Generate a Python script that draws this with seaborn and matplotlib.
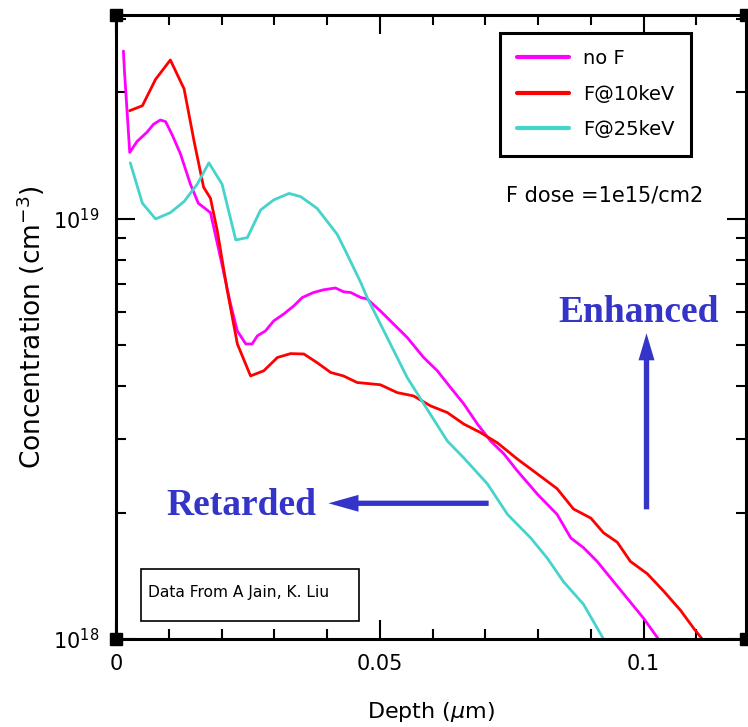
import numpy as np
import pandas as pd
import matplotlib
matplotlib.use("Agg")
import matplotlib.pyplot as plt
import seaborn as sns
from matplotlib.ticker import MultipleLocator, LogLocator, NullFormatter, FixedLocator, FixedFormatter
from matplotlib.patches import Rectangle, FancyArrow

# ---------------- data (depth in um, concentration in cm^-3) ----------------
series_names = ["no F", "F@10keV", "F@25keV"]
series_colors = ["#FF00FF", "#FF0000", "#45D3CB"]

noF_depth = [0.0014, 0.0016, 0.0026, 0.0040, 0.0059, 0.0071, 0.0084, 0.0094, 0.0107, 0.0122,
             0.0141, 0.0156, 0.0179, 0.0198, 0.0217, 0.0230, 0.0246, 0.0258, 0.0268, 0.0283,
             0.0299, 0.0318, 0.0337, 0.0353, 0.0374, 0.0393, 0.0416, 0.0431, 0.0445, 0.0464,
             0.0476, 0.0501, 0.0520, 0.0552, 0.0583, 0.0609, 0.0634, 0.0659, 0.0685, 0.0710,
             0.0735, 0.0761, 0.0799, 0.0836, 0.0862, 0.0886, 0.0912, 0.0943, 0.0969, 0.1000,
             0.1028]
noF_conc = [25.1, 22.5, 14.4, 15.3, 16.1, 16.8, 17.2, 17.05, 15.8, 14.3,
            12.1, 10.9, 10.35, 8.09, 6.28, 5.41, 5.04, 5.04, 5.27, 5.41,
            5.72, 5.94, 6.21, 6.50, 6.68, 6.78, 6.85, 6.71, 6.68, 6.50,
            6.45, 6.04, 5.72, 5.22, 4.68, 4.35, 3.97, 3.63, 3.25, 2.96,
            2.76, 2.51, 2.21, 1.98, 1.74, 1.65, 1.53, 1.37, 1.25, 1.12,
            1.00]

F10_depth = [0.0026, 0.0050, 0.0075, 0.0103, 0.0129, 0.0148, 0.0166, 0.0179, 0.0192, 0.0211,
             0.0230, 0.0255, 0.0280, 0.0306, 0.0331, 0.0356, 0.0381, 0.0407, 0.0431, 0.0457,
             0.0501, 0.0533, 0.0564, 0.0596, 0.0628, 0.0659, 0.0691, 0.0723, 0.0761, 0.0799,
             0.0836, 0.0867, 0.0900, 0.0924, 0.0950, 0.0975, 0.1007, 0.1038, 0.1070, 0.1095,
             0.1111]
F10_conc = [18.1, 18.6, 21.5, 23.9, 20.4, 15.3, 11.9, 11.2, 9.36, 6.74,
            5.04, 4.23, 4.35, 4.68, 4.78, 4.77, 4.55, 4.31, 4.23, 4.08,
            4.03, 3.86, 3.79, 3.59, 3.46, 3.25, 3.10, 2.93, 2.68, 2.47,
            2.28, 2.04, 1.94, 1.79, 1.70, 1.53, 1.43, 1.30, 1.17, 1.06,
            1.00]

F25_depth = [0.0027, 0.0050, 0.0075, 0.0103, 0.0129, 0.0154, 0.0176, 0.0201, 0.0227, 0.0249,
             0.0274, 0.0299, 0.0328, 0.0350, 0.0381, 0.0419, 0.0435, 0.0464, 0.0476, 0.0514,
             0.0552, 0.0590, 0.0628, 0.0659, 0.0704, 0.0742, 0.0786, 0.0817, 0.0848, 0.0886,
             0.0924]
F25_conc = [13.6, 10.9, 10.0, 10.35, 11.0, 12.1, 13.6, 12.1, 8.91, 9.03,
            10.5, 11.1, 11.5, 11.3, 10.6, 9.2, 8.39, 7.05, 6.50, 5.22,
            4.19, 3.52, 2.96, 2.70, 2.34, 1.98, 1.74, 1.56, 1.37, 1.21,
            1.00]

x_ticks = [0, 0.05, 0.1]
x_tick_labels = ["0", "0.05", "0.1"]
y_ticks = [1e18, 1e19]
y_tick_labels = ["$10^{18}$", "$10^{19}$"]

# ---------------- build long-form table ----------------
frames = []
for name, d, c in zip(series_names,
                      [noF_depth, F10_depth, F25_depth],
                      [noF_conc, F10_conc, F25_conc]):
    frames.append(pd.DataFrame({"depth": d,
                                "conc": np.array(c) * 1e18,
                                "series": name}))
df = pd.concat(frames, ignore_index=True)

# ---------------- plot ----------------
sns.set_style("ticks")
plt.rcParams["font.family"] = ["DejaVu Sans"]
plt.rcParams["text.color"] = "black"
plt.rcParams["axes.labelcolor"] = "black"
plt.rcParams["xtick.color"] = "black"
plt.rcParams["ytick.color"] = "black"

fig = plt.figure(figsize=(7.48, 7.27), dpi=100)
ax = fig.add_axes([0.1551, 0.121, 0.8422, 0.8577])
ax.set_yscale("log")

sns.lineplot(data=df, x="depth", y="conc", hue="series", hue_order=series_names,
             palette=dict(zip(series_names, series_colors)), estimator=None,
             sort=False, linewidth=2.0, ax=ax, legend=True)

ax.set_xlim(0, 0.1194)
ax.set_ylim(1e18, 3.05e19)

ax.xaxis.set_major_locator(FixedLocator(x_ticks))
ax.xaxis.set_major_formatter(FixedFormatter(x_tick_labels))
ax.xaxis.set_minor_locator(MultipleLocator(0.01))
ax.yaxis.set_major_locator(FixedLocator(y_ticks))
ax.yaxis.set_major_formatter(FixedFormatter(y_tick_labels))
ax.yaxis.set_minor_locator(LogLocator(base=10, subs=np.arange(2, 10)))
ax.yaxis.set_minor_formatter(NullFormatter())

ax.tick_params(which="both", direction="in", top=True, right=True, width=1.5,
               color="black", labelcolor="black", labelsize=15)
ax.tick_params(which="major", length=14)
ax.tick_params(which="minor", length=7)
ax.tick_params(axis="x", pad=11)
ax.tick_params(axis="y", pad=12)

for sp in ax.spines.values():
    sp.set_linewidth(2.2)
    sp.set_color("black")

ax.set_xlabel("Depth ($\\mu$m)", fontsize=16, color="black")
ax.set_ylabel("Concentration (cm$^{-3}$)", fontsize=19, color="black")
ax.xaxis.set_label_coords(0.5, -0.097)
ax.yaxis.set_label_coords(-0.11, 0.5)

# legend
handles, labels = ax.get_legend_handles_labels()
for h in handles:
    h.set_linewidth(3)
leg = ax.legend(handles, labels, loc="upper right", bbox_to_anchor=(0.9126, 0.9724),
                frameon=True, fancybox=False, edgecolor="black", framealpha=1,
                fontsize=14, handlelength=2.7, handletextpad=0.7, labelspacing=0.85,
                borderpad=0.85, borderaxespad=0)
leg.get_frame().set_linewidth(2.2)
for t in leg.get_texts():
    t.set_color("black")

# annotations
ax.text(0.6184, 0.7121, "F dose =1e15/cm2", transform=ax.transAxes, fontsize=15,
        ha="left", va="center", color="black")

ax.add_patch(Rectangle((0.0393, 0.0294), 0.347, 0.0824, transform=ax.transAxes,
                       fill=False, edgecolor="black", linewidth=1.2))
ax.text(0.0509, 0.0754, "Data From A Jain, K. Liu", transform=ax.transAxes,
        fontsize=11.2, ha="left", va="center", color="black")

blue = "#3434C8"
ax.text(0.1987, 0.1989, "Retarded", transform=ax.transAxes, fontsize=27,
        family="Liberation Serif", weight="bold", color=blue, ha="center", va="baseline")
ax.text(0.8299, 0.5089, "Enhanced", transform=ax.transAxes, fontsize=27,
        family="Liberation Serif", weight="bold", color=blue, ha="center", va="baseline")

ax.add_patch(FancyArrow(0.5915, 0.2177, -0.2543, 0, width=0.0085, head_width=0.027,
                        head_length=0.0477, length_includes_head=True,
                        transform=ax.transAxes, color=blue, lw=0))
ax.add_patch(FancyArrow(0.8421, 0.208, 0, 0.2823, width=0.0085, head_width=0.0254,
                        head_length=0.0433, length_includes_head=True,
                        transform=ax.transAxes, color=blue, lw=0))

# corner squares
ax.plot([0, 1, 0, 1], [0, 0, 1, 1], "s", transform=ax.transAxes, clip_on=False,
        ms=8, color="black", zorder=6)

fig.savefig("out.png", dpi=100, facecolor="white")
